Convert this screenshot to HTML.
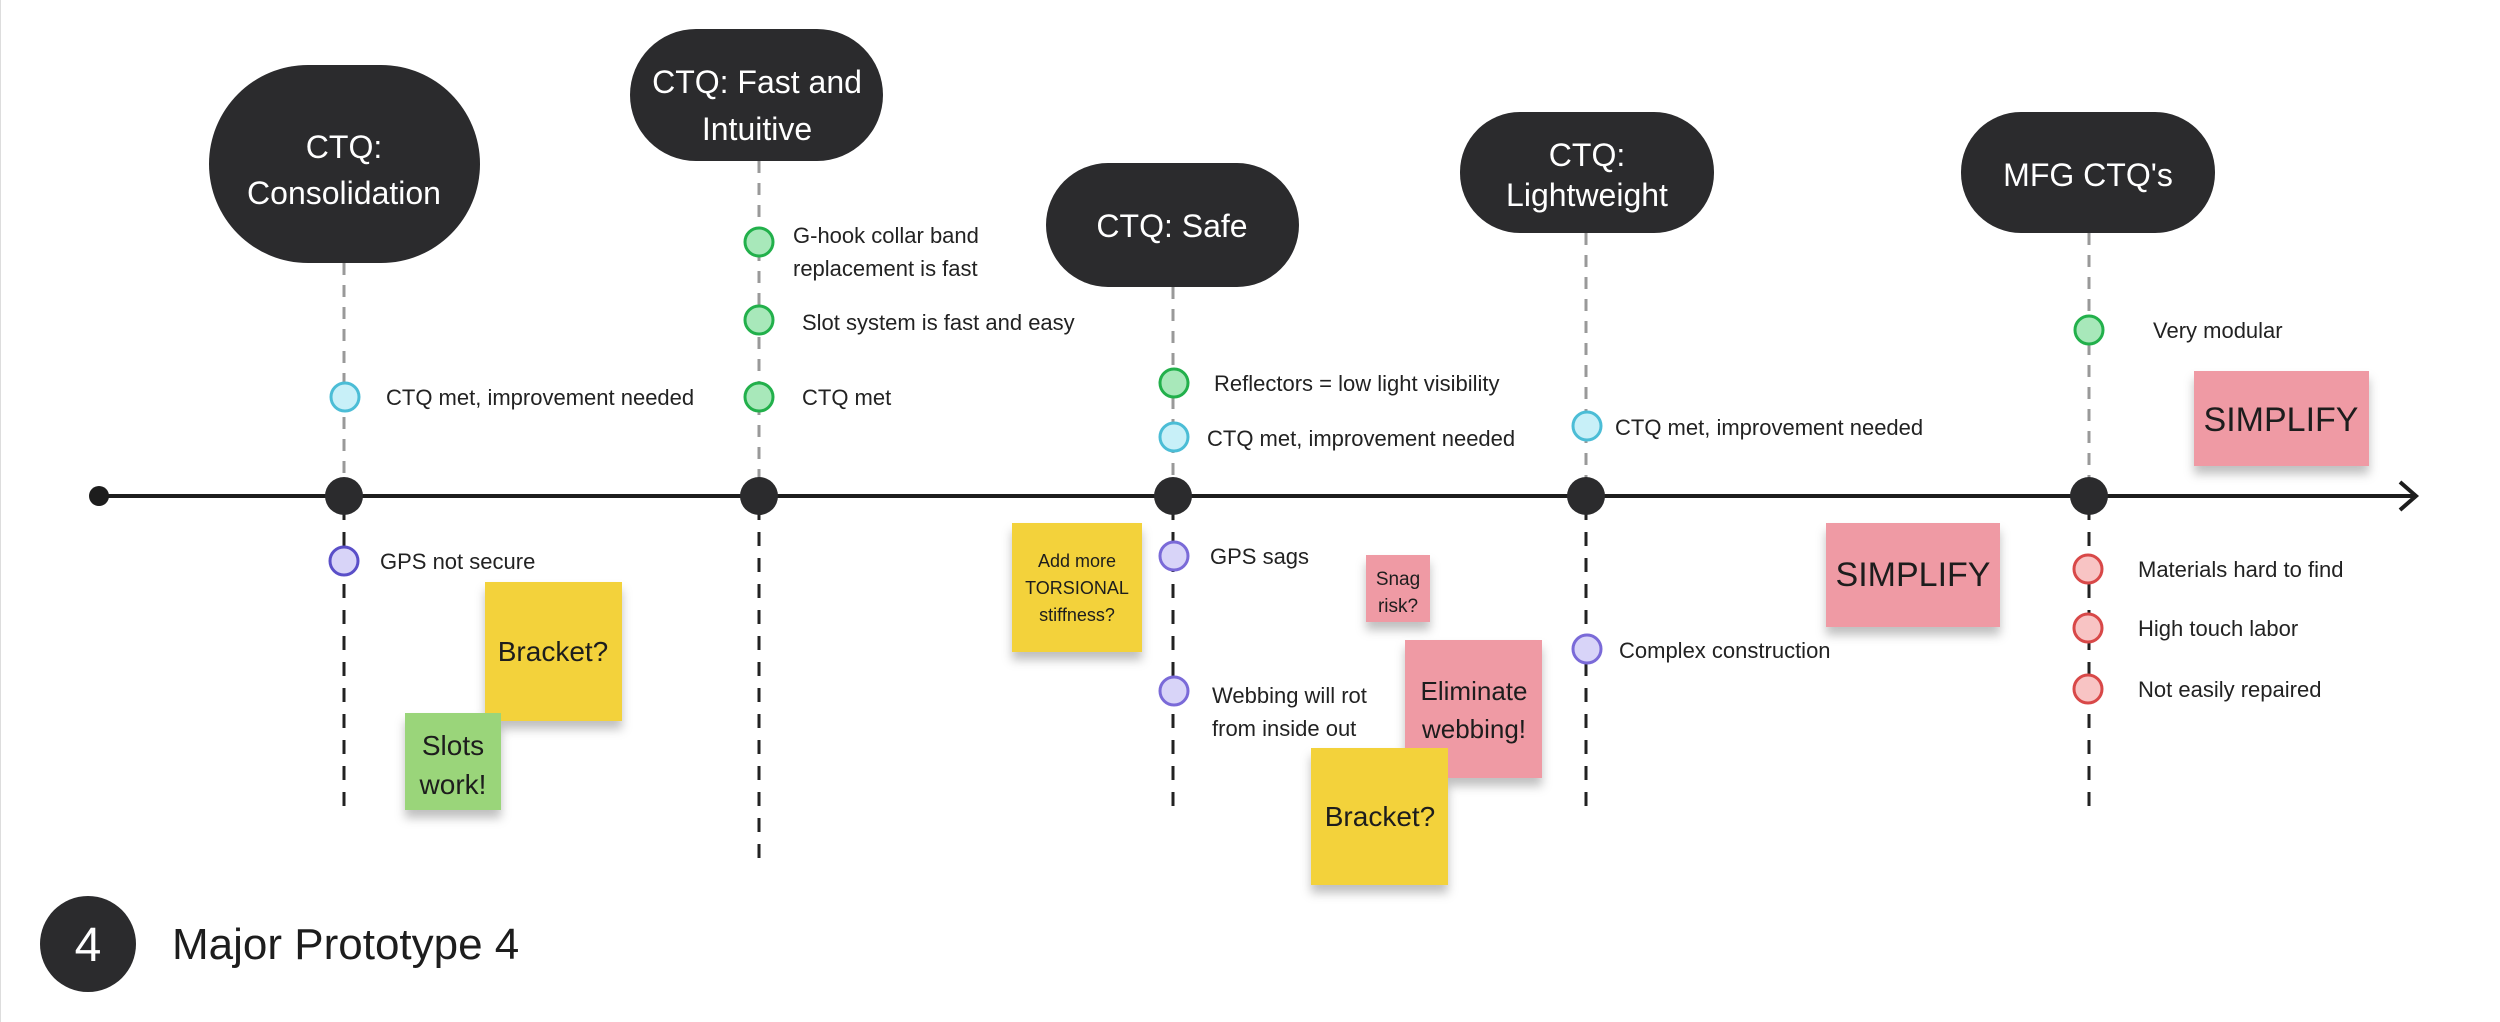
<!DOCTYPE html>
<html><head><meta charset="utf-8"><style>
html,body{margin:0;padding:0;background:#fff;}
svg{display:block;}
text{font-family:"Liberation Sans",sans-serif;}
.t{font-size:22px;fill:#222;}
.p{font-size:32px;fill:#fff;text-anchor:middle;}
.s{fill:#1d1d1d;text-anchor:middle;}
</style></head><body>
<svg width="2500" height="1022" viewBox="0 0 2500 1022" xmlns="http://www.w3.org/2000/svg">
<defs>
<filter id="sh" x="-20%" y="-20%" width="140%" height="150%"><feDropShadow dx="0" dy="8" stdDeviation="5" flood-color="#000" flood-opacity="0.25"/></filter>
</defs>
<rect width="2500" height="1022" fill="#fff"/>
<line x1="0" y1="0" x2="0" y2="1022" stroke="#ddd" stroke-width="2"/>
<g stroke="#999" stroke-width="3" stroke-dasharray="12,10">
<line x1="344" y1="263" x2="344" y2="486"/>
<line x1="759" y1="161" x2="759" y2="486"/>
<line x1="1173" y1="287" x2="1173" y2="486"/>
<line x1="1586" y1="233" x2="1586" y2="486"/>
<line x1="2089" y1="233" x2="2089" y2="486"/>
</g>
<g stroke="#222" stroke-width="3" stroke-dasharray="14,12">
<line x1="344" y1="506" x2="344" y2="810"/>
<line x1="759" y1="506" x2="759" y2="866"/>
<line x1="1173" y1="506" x2="1173" y2="810"/>
<line x1="1586" y1="506" x2="1586" y2="810"/>
<line x1="2089" y1="506" x2="2089" y2="810"/>
</g>
<line x1="99" y1="496" x2="2414" y2="496" stroke="#1d1d1d" stroke-width="4"/>
<polyline points="2400,482 2416,496 2400,510" fill="none" stroke="#1d1d1d" stroke-width="4"/>
<circle cx="99" cy="496" r="10" fill="#1d1d1d"/>
<g fill="#2b2b2d">
<circle cx="344" cy="496" r="19"/><circle cx="759" cy="496" r="19"/><circle cx="1173" cy="496" r="19"/><circle cx="1586" cy="496" r="19"/><circle cx="2089" cy="496" r="19"/>
</g>
<g fill="#2b2b2d">
<rect x="209" y="65" width="271" height="198" rx="99"/>
<rect x="630" y="29" width="253" height="132" rx="66"/>
<rect x="1046" y="163" width="253" height="124" rx="62"/>
<rect x="1460" y="112" width="254" height="121" rx="60"/>
<rect x="1961" y="112" width="254" height="121" rx="60"/>
</g>
<text class="p" x="344" y="158">CTQ:</text>
<text class="p" x="344" y="204">Consolidation</text>
<text class="p" x="757" y="93">CTQ: Fast and</text>
<text class="p" x="757" y="140">Intuitive</text>
<text class="p" x="1172" y="237">CTQ: Safe</text>
<text class="p" x="1587" y="166">CTQ:</text>
<text class="p" x="1587" y="206">Lightweight</text>
<text class="p" x="2088" y="186">MFG CTQ's</text>
<g stroke-width="3">
<circle cx="345" cy="397" r="14" fill="#c8f0f8" stroke="#4bbdd6"/>
<circle cx="344" cy="561" r="14" fill="#d8d4f8" stroke="#5a4fc8"/>
<circle cx="759" cy="242" r="14" fill="#a8e8ba" stroke="#22b04b"/>
<circle cx="759" cy="320" r="14" fill="#a8e8ba" stroke="#22b04b"/>
<circle cx="759" cy="397" r="14" fill="#a8e8ba" stroke="#22b04b"/>
<circle cx="1174" cy="383" r="14" fill="#a8e8ba" stroke="#22b04b"/>
<circle cx="1174" cy="437" r="14" fill="#c8f0f8" stroke="#4bbdd6"/>
<circle cx="1174" cy="556" r="14" fill="#d8d4f8" stroke="#7a6ad8"/>
<circle cx="1174" cy="691" r="14" fill="#d8d4f8" stroke="#7a6ad8"/>
<circle cx="1587" cy="426" r="14" fill="#c8f0f8" stroke="#4bbdd6"/>
<circle cx="1587" cy="649" r="14" fill="#d8d4f8" stroke="#7a6ad8"/>
<circle cx="2089" cy="330" r="14" fill="#a8e8ba" stroke="#22b04b"/>
<circle cx="2088" cy="569" r="14" fill="#f8c4c4" stroke="#d84848"/>
<circle cx="2088" cy="628" r="14" fill="#f8c4c4" stroke="#d84848"/>
<circle cx="2088" cy="689" r="14" fill="#f8c4c4" stroke="#d84848"/>
</g>
<text class="t" x="386" y="405">CTQ met, improvement needed</text>
<text class="t" x="380" y="569">GPS not secure</text>
<text class="t" x="793" y="243">G-hook collar band</text>
<text class="t" x="793" y="276">replacement is fast</text>
<text class="t" x="802" y="330">Slot system is fast and easy</text>
<text class="t" x="802" y="405">CTQ met</text>
<text class="t" x="1214" y="391">Reflectors = low light visibility</text>
<text class="t" x="1207" y="446">CTQ met, improvement needed</text>
<text class="t" x="1210" y="564">GPS sags</text>
<text class="t" x="1212" y="703">Webbing will rot</text>
<text class="t" x="1212" y="736">from inside out</text>
<text class="t" x="1615" y="435">CTQ met, improvement needed</text>
<text class="t" x="1619" y="658">Complex construction</text>
<text class="t" x="2153" y="338">Very modular</text>
<text class="t" x="2138" y="577">Materials hard to find</text>
<text class="t" x="2138" y="636">High touch labor</text>
<text class="t" x="2138" y="697">Not easily repaired</text>
<g filter="url(#sh)">
<rect x="485" y="582" width="137" height="139" fill="#f3d23a"/>
<rect x="405" y="713" width="96" height="97" fill="#9ad57a"/>
<rect x="1012" y="523" width="130" height="129" fill="#f3d23a"/>
<rect x="1366" y="555" width="64" height="67" fill="#ef9aa4"/>
<rect x="1405" y="640" width="137" height="138" fill="#ef9aa4"/>
<rect x="1311" y="748" width="137" height="137" fill="#f3d23a"/>
<rect x="1826" y="523" width="174" height="104" fill="#ef9aa4"/>
<rect x="2194" y="371" width="175" height="95" fill="#ef9aa4"/>
</g>
<text class="s" x="553" y="661" font-size="28">Bracket?</text>
<text class="s" x="453" y="755" font-size="28">Slots</text>
<text class="s" x="453" y="794" font-size="28">work!</text>
<text class="s" x="1077" y="567" font-size="18">Add more</text>
<text class="s" x="1077" y="594" font-size="18">TORSIONAL</text>
<text class="s" x="1077" y="621" font-size="18">stiffness?</text>
<text class="s" x="1398" y="585" font-size="19">Snag</text>
<text class="s" x="1398" y="612" font-size="19">risk?</text>
<text class="s" x="1474" y="700" font-size="26">Eliminate</text>
<text class="s" x="1474" y="738" font-size="26">webbing!</text>
<text class="s" x="1380" y="826" font-size="28">Bracket?</text>
<text class="s" x="1913" y="586" font-size="34">SIMPLIFY</text>
<text class="s" x="2281" y="431" font-size="34">SIMPLIFY</text>
<circle cx="88" cy="944" r="48" fill="#2b2b2d"/>
<text x="88" y="961" font-size="48" fill="#fff" text-anchor="middle">4</text>
<text x="172" y="959" font-size="44" fill="#1d1d1d">Major Prototype 4</text>
</svg>
</body></html>
